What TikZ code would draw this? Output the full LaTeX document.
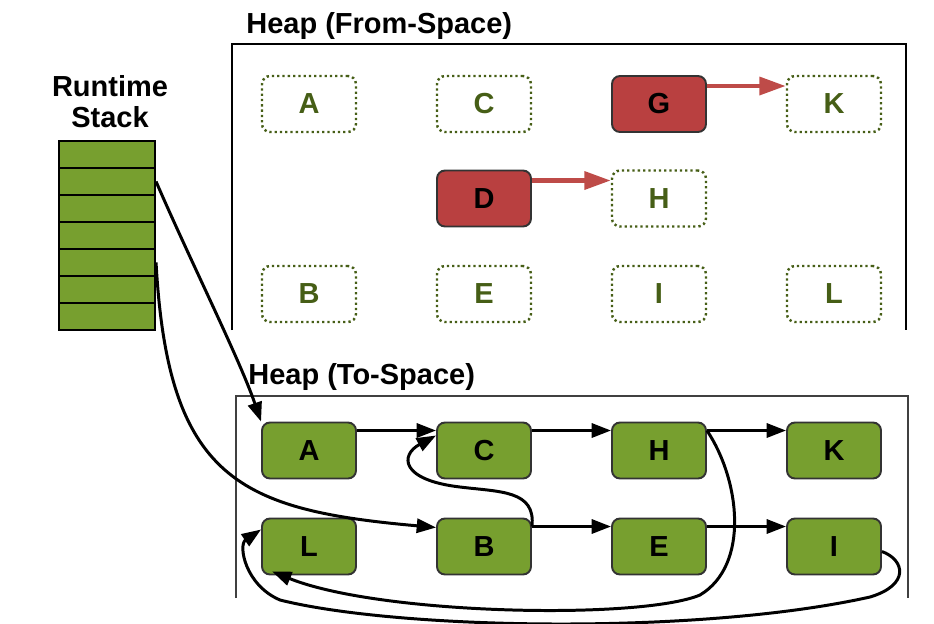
\documentclass[tikz,border=0pt]{standalone}
\usepackage{fontspec}
\setmainfont{Liberation Sans}
\usetikzlibrary{arrows.meta}

\definecolor{livegreen}{RGB}{119,159,47}
\definecolor{deadred}{RGB}{185,64,64}
\definecolor{freegreen}{RGB}{70,94,22}
\definecolor{ptrred}{RGB}{190,75,72}

\newcommand{\objfont}{\fontsize{16.5}{18}\selectfont\bfseries}
\newcommand{\headfont}{\fontsize{16.5}{17.6}\selectfont\bfseries}

\begin{document}
\begin{tikzpicture}[x=0.02cm, y=-0.02cm,
        % Stack slots: plain green cells
        cell/.style={rectangle, draw=black, line width=1.2pt, fill=livegreen,
            minimum width=1.92cm, minimum height=0.54cm, inner sep=0pt},
        % Copied objects: solid border, green fill
        live/.style={rectangle, rounded corners=0.16cm, draw=black!80,
            line width=1.1pt, fill=livegreen, minimum width=1.88cm,
            minimum height=1.12cm, inner sep=0pt, font=\objfont},
        % Garbage objects: solid border, red fill
        dead/.style={live, fill=deadred},
        % Evacuated slots: dotted border, no fill
        free/.style={rectangle, rounded corners=0.16cm, draw=freegreen,
            line width=1.4pt, dash pattern=on 1.3pt off 1.7pt,
            minimum width=1.88cm, minimum height=1.12cm, inner sep=0pt,
            text=freegreen, font=\objfont},
        title/.style={inner sep=0pt, font=\headfont},
        conn/.style={-{Triangle[length=11pt,width=8pt]}, line width=1.7pt},
        ptr/.style={-{Triangle[length=15pt,width=10pt]}, line width=2.6pt, draw=ptrred},
        ]
        \useasboundingbox (0,0) rectangle (934,623);

        % Column x-coordinates (px)
        \def\colsep{175}
        \def\colA{309}
        % Row y-coordinates (px)
        \def\rowFa{104}
        \def\rowFb{198.5}
        \def\rowFc{294}
        \def\rowTa{450.5}
        \def\rowTb{546.5}
        \def\stackx{107}

        % === Runtime stack ===
        \node[title, align=center] (stacktitle) at (110,102) {Runtime\\Stack};
        \node[cell] (s1) at (\stackx,154.5) {};
        \node[cell] (s2) at (\stackx,181.5) {};
        \node[cell] (s3) at (\stackx,208.5) {};
        \node[cell] (s4) at (\stackx,235.5) {};
        \node[cell] (s5) at (\stackx,262.5) {};
        \node[cell] (s6) at (\stackx,289.5) {};
        \node[cell] (s7) at (\stackx,316.5) {};

        % === From-space ===
        \node[title, anchor=base west] (fromtitle) at (246,33) {Heap (From-Space)};
        \draw[line width=1.2pt] (232,330) -- (232,44) -- (906,44) -- (906,330);

        \node[free] (fA) at (\colA,\rowFa) {A};
        \node[free] (fC) at (\colA+\colsep,\rowFa) {C};
        \node[dead] (fG) at (\colA+2*\colsep,\rowFa) {G};
        \node[free] (fK) at (\colA+3*\colsep,\rowFa) {K};
        \node[dead] (fD) at (\colA+\colsep,\rowFb) {D};
        \node[free] (fH) at (\colA+2*\colsep,\rowFb) {H};
        \node[free] (fB) at (\colA,\rowFc) {B};
        \node[free] (fE) at (\colA+\colsep,\rowFc) {E};
        \node[free] (fI) at (\colA+2*\colsep,\rowFc) {I};
        \node[free] (fL) at (\colA+3*\colsep,\rowFc) {L};

        \draw[ptr] ([yshift=0.36cm]fG.east) -- ([yshift=0.36cm]fK.west);
        \draw[ptr] ([yshift=0.36cm]fD.east) -- ([yshift=0.36cm]fH.west);

        % === To-space ===
        \node[title, anchor=base west] (totitle) at (248,384) {Heap (To-Space)};
        \draw[line width=0.9pt, black!75] (236,598) -- (236,396) -- (908,396) -- (908,598);

        \node[live] (tA) at (\colA,\rowTa) {A};
        \node[live] (tC) at (\colA+\colsep,\rowTa) {C};
        \node[live] (tH) at (\colA+2*\colsep,\rowTa) {H};
        \node[live] (tK) at (\colA+3*\colsep,\rowTa) {K};
        \node[live] (tL) at (\colA,\rowTb) {L};
        \node[live] (tB) at (\colA+\colsep,\rowTb) {B};
        \node[live] (tE) at (\colA+2*\colsep,\rowTb) {E};
        \node[live] (tI) at (\colA+3*\colsep,\rowTb) {I};

        % roots
        \draw[conn] (s2.east) .. controls (190,260) and (240,360) .. (tA.north west);
        \draw[conn] (s5.east) .. controls (168,480) and (240,510) .. ([yshift=0.38cm]tB.west);

        % references between copies
        \draw[conn] ([yshift=0.4cm]tA.east) -- ([yshift=0.4cm]tC.west);
        \draw[conn] ([yshift=0.4cm]tC.east) -- ([yshift=0.4cm]tH.west);
        \draw[conn] ([yshift=0.4cm]tH.east) -- ([yshift=0.4cm]tK.west);
        \draw[conn] ([yshift=0.4cm]tB.east) -- ([yshift=0.4cm]tE.west);
        \draw[conn] ([yshift=0.4cm]tE.east) -- ([yshift=0.4cm]tI.west);
        \draw[conn] ([yshift=0.4cm]tB.east) .. controls (536,490) and (500,492) .. (460,487)
            .. controls (400,480) and (400,455) .. ([yshift=0.3cm]tC.west);
        \draw[conn] ([yshift=0.4cm]tH.east) .. controls (740,480) and (750,565) .. (700,595)
            .. controls (640,620) and (380,615) .. ([xshift=0.22cm,yshift=0.08cm]tL.south west);
        \draw[conn] ([yshift=-0.1cm]tI.east) .. controls (905,560) and (910,585) .. (870,597)
            .. controls (700,635) and (400,630) .. (280,600)
            .. controls (245,585) and (238,545) .. ([yshift=0.34cm]tL.west);

    \end{tikzpicture}
\end{document}
